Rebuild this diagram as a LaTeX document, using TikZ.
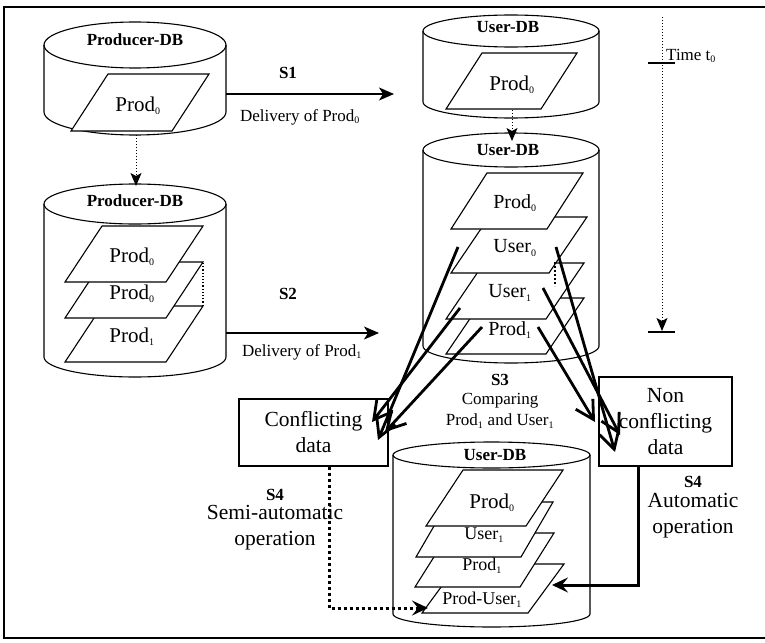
\documentclass[tikz,border=0pt]{standalone}
\usepackage{fontspec}
\setmainfont{Liberation Serif}
\usepackage{tikz}
\usetikzlibrary{arrows.meta}
\newcommand{\lsub}[1]{\textsubscript{\fontsize{10}{10}\selectfont #1}}
\tikzset{
    DBLine/.style = {line width=1.1pt},
    Layer/.style = {line width=1.1pt,fill=white},
    DBName/.style = {font=\fontsize{17}{20}\selectfont\bfseries},
    LayerText/.style = {font=\fontsize{#1}{24}\selectfont},
    LayerText/.default = 21,
    Caption/.style = {font=\fontsize{17}{21}\selectfont,align=center},
    StepText/.style = {font=\fontsize{17}{20}\selectfont\bfseries},
    BigText/.style = {font=\fontsize{21.5}{26}\selectfont,align=center},
    DataBox/.style = {draw,line width=1.1pt,BigText},
    Flow/.style = {line width=1.3pt,-{Stealth[length=15pt,width=13pt,inset=4pt]}},
    DotFlow/.style = {line width=1pt,dotted,-{Stealth[length=13pt,width=11pt,inset=3pt]}},
    Compare/.style = {line width=2.8pt,-{Straight Barb[length=18pt,width=20pt]}},
    Merge/.style = {line width=3pt,-{Stealth[length=16pt,width=15pt,inset=6pt]}}
}
% cylinder: name, centre x, top y, bottom y, x radius, y radius
\newcommand{\DBcyl}[6]{%
    \draw[DBLine,fill=white] (#2-#5,#3) -- (#2-#5,#4)
        arc[start angle=180,end angle=360,x radius=#5,y radius=#6] -- (#2+#5,#3);
    \draw[DBLine] (#2,#3) ellipse[x radius=#5,y radius=#6];
    \coordinate (#1) at (#2,#3);}
\begin{document}
\begin{tikzpicture}[x=1pt,y=1pt,inner sep=0pt]
    \useasboundingbox (0,0) rectangle (765,-642);
    \draw[line width=1.5pt] (765,-7) -- (4,-7) -- (4,-638) -- (765,-638);

    % producer side
    \DBcyl{pdb1}{135}{-45}{-112}{91}{23}
    \node[DBName] (pdb1-name) at (135,-40) {Producer-DB};
    \draw[Layer] (71,-131) -- ++(101,0) -- ++(37,57) -- ++(-101,0) -- cycle;
    \node[LayerText] (pdb1-prod0) at (138,-106) {Prod\lsub{0}};

    \DBcyl{pdb2}{135}{-204}{-357}{91}{20}
    \node[DBName] (pdb2-name) at (135,-201) {Producer-DB};
    \foreach \y in {362,318,282}
        {\draw[Layer] (65,-\y) -- ++(101,0) -- ++(37,56) -- ++(-101,0) -- cycle;}
    \draw[line width=1.2pt,dotted] (203,-263) -- (203,-306);
    \node[LayerText] (pdb2-prod0a) at (132,-257) {Prod\lsub{0}};
    \node[LayerText] (pdb2-prod0b) at (132,-294) {Prod\lsub{0}};
    \node[LayerText] (pdb2-prod1) at (132,-337) {Prod\lsub{1}};

    \coordinate (pdb1-out) at (136,-135);
    \coordinate (pdb2-in) at (136,-186);
    \draw[DotFlow] (pdb1-out) -- (pdb2-in);

    % deliveries
    \coordinate (s1-from) at (226,-94);
    \coordinate (s1-to) at (394,-94);
    \draw[Flow] (s1-from) -- (s1-to);
    \node[StepText] (s1) at (288,-73) {S1};
    \node[Caption] (s1-text) at (300,-117) {Delivery of Prod\lsub{0}};

    \coordinate (s2-from) at (226,-333);
    \coordinate (s2-to) at (379,-333);
    \draw[Flow] (s2-from) -- (s2-to);
    \node[StepText] (s2) at (288,-294) {S2};
    \node[Caption] (s2-text) at (302,-352) {Delivery of Prod\lsub{1}};

    % user side
    \DBcyl{udb1}{511}{-31}{-102}{88}{16}
    \node[DBName] (udb1-name) at (508,-27) {User-DB};
    \draw[Layer] (446,-109) -- ++(95,0) -- ++(36,56) -- ++(-95,0) -- cycle;
    \node[LayerText] (udb1-prod0) at (512,-85) {Prod\lsub{0}};

    \coordinate (udb1-out) at (512,-110);
    \coordinate (udb2-in) at (512,-141);
    \draw[DotFlow] (udb1-out) -- (udb2-in);

    \DBcyl{udb2}{511}{-150}{-346}{88}{17}
    \node[DBName] (udb2-name) at (508,-150) {User-DB};
    \draw[Layer] (446,-354) -- ++(100,0) -- ++(38,56) -- ++(-100,0) -- cycle;
    \draw[Layer] (446,-319) -- ++(100,0) -- ++(38,56) -- ++(-100,0) -- cycle;
    \draw[Layer] (451,-273) -- ++(98,0) -- ++(38,56) -- ++(-98,0) -- cycle;
    \draw[Layer] (451,-229) -- ++(96,0) -- ++(36,56) -- ++(-96,0) -- cycle;
    \draw[line width=2pt,dash pattern=on 2pt off 2pt] (555,-262) -- (555,-286);
    \node[LayerText=20] (udb2-prod0) at (515,-203) {Prod\lsub{0}};
    \node[LayerText=20] (udb2-user0) at (515,-248) {User\lsub{0}};
    \node[LayerText=20] (udb2-user1) at (510,-293) {User\lsub{1}};
    \node[LayerText=20] (udb2-prod1) at (510,-330) {Prod\lsub{1}};

    % time axis
    \coordinate (t-start) at (662,-17);
    \coordinate (t-end) at (662,-331);
    \draw[DotFlow] (t-start) -- (t-end);
    \draw[line width=1.1pt] (648,-63) -- (675,-63);
    \draw[line width=1.1pt] (648,-332) -- (675,-332);
    \node[Caption,anchor=west] (t0) at (666,-56) {Time t\lsub{0}};

    % comparison
    \node[DataBox,minimum width=149pt,minimum height=67pt] (conf) at (313.5,-432.5) {Conflicting\\data};
    \node[DataBox,minimum width=133pt,minimum height=89pt] (nonconf) at (665.5,-421.5) {Non\\conflicting\\data};
    \node[StepText] (s3) at (500,-380) {S3};
    \node[Caption] (s3-text) at (500,-411) {Comparing\\Prod\lsub{1} and User\lsub{1}};

    \coordinate (u0-l) at (458,-247);
    \coordinate (u1-l) at (460,-308);
    \coordinate (p1-l) at (482,-327);
    \coordinate (u0-r) at (556,-247);
    \coordinate (u1-r) at (543,-288);
    \coordinate (p1-r) at (538,-327);
    \coordinate (conf-a) at (378,-440);
    \coordinate (conf-b) at (372,-422);
    \coordinate (conf-c) at (385,-432);
    \coordinate (nonconf-a) at (615,-452);
    \coordinate (nonconf-b) at (620,-435);
    \coordinate (nonconf-c) at (595,-422);
    \draw[Compare] (u0-l) -- (conf-a);
    \draw[Compare] (u1-l) -- (conf-b);
    \draw[Compare] (p1-l) -- (conf-c);
    \draw[Compare] (u0-r) -- (nonconf-a);
    \draw[Compare] (u1-r) -- (nonconf-b);
    \draw[Compare] (p1-r) -- (nonconf-c);

    % merged user database
    \DBcyl{udb3}{491.5}{-455}{-614}{98.5}{13}
    \node[DBName] (udb3-name) at (495,-455) {User-DB};
    \draw[Layer] (422,-613) -- ++(106,0) -- ++(36,49) -- ++(-106,0) -- cycle;
    \draw[Layer] (415,-587) -- ++(105,0) -- ++(34,54) -- ++(-105,0) -- cycle;
    \draw[Layer] (416,-557) -- ++(105,0) -- ++(32,55) -- ++(-105,0) -- cycle;
    \draw[Layer] (426,-526) -- ++(100,0) -- ++(37,56) -- ++(-100,0) -- cycle;
    \node[LayerText] (udb3-prod0) at (492,-503) {Prod\lsub{0}};
    \node[LayerText=18] (udb3-user1) at (484,-535) {User\lsub{1}};
    \node[LayerText=18] (udb3-prod1) at (482,-566) {Prod\lsub{1}};
    \node[LayerText=18] (udb3-pu1) at (482,-600) {Prod-User\lsub{1}};

    % S4 operations
    \node[StepText] (s4-semi) at (275,-495) {S4};
    \node[BigText] (s4-semi-text) at (275,-528) {Semi-automatic\\operation};
    \node[StepText] (s4-auto) at (693,-482) {S4};
    \node[BigText] (s4-auto-text) at (693,-516) {Automatic\\operation};

    \coordinate (pu1-semi) at (428,-608);
    \coordinate (pu1-auto) at (552,-585);
    \draw[Merge,dash pattern=on 3pt off 3pt] ([xshift=15.5pt]conf.south) |- (pu1-semi);
    \draw[Merge] ([xshift=-27.5pt]nonconf.south) |- (pu1-auto);
\end{tikzpicture}
\end{document}
